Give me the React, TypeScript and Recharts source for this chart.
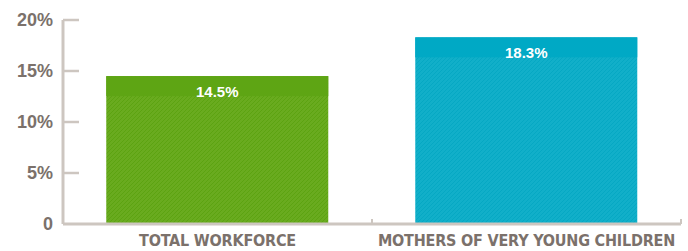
import { BarChart, Bar, XAxis, YAxis, LabelList } from 'recharts';

const categories = ['TOTAL WORKFORCE', 'MOTHERS OF VERY YOUNG CHILDREN'];
const shares = [14.5, 18.3];
const yTicks = [0, 5, 10, 15, 20];

const data = categories.map((name, i) => ({ name, value: shares[i] }));

const AXIS = '#cdc6c0';
const TEXT = '#7b716b';
const solid = ['#5ea514', '#00a9c5'];
const hatch = ['#69ab1f', '#11afc9'];
const stripe = ['#5ca311', '#05a8c3'];

function HatchBar(props: any) {
  const { x, y, width, height, index } = props;
  const band = Math.min(20, height);
  return (
    <g>
      <rect x={x} y={y} width={width} height={height} fill={`url(#hatch${index})`} />
      <rect x={x} y={y} width={width} height={band} fill={solid[index]} />
    </g>
  );
}

function YTick(props: any) {
  const { x, y, payload } = props;
  const v = payload.value;
  return (
    <g>
      <text x={x} y={y} dy={6} textAnchor="end" fill={TEXT} fontSize={18} fontWeight="bold"
        fontFamily="'Liberation Sans', Arial, sans-serif">
        {v === 0 ? '0' : `${v}%`}
      </text>
      {v !== 0 && <line x1={x + 10} x2={x + 26} y1={y} y2={y} stroke={AXIS} strokeWidth={2.5} />}
    </g>
  );
}

function XTick(props: any) {
  const { x, y, payload } = props;
  const off = payload.offset ?? 154.5;
  return (
    <g>
      <line x1={x + off} x2={x + off} y1={y - 5} y2={y} stroke={AXIS} strokeWidth={2} />
      <text x={x} y={y + 22} textAnchor="middle" fill={TEXT} fontSize={16} fontWeight="bold"
        letterSpacing={-0.2}
        fontFamily="'Liberation Sans Narrow', 'DejaVu Sans Condensed', sans-serif">
        {payload.value}
      </text>
    </g>
  );
}

export default function App() {
  return (
    <div style={{ position: 'absolute', left: 0, top: 0, background: '#fff' }}>
      <BarChart width={688} height={251} data={data} margin={{ top: 20, right: 7, bottom: 0, left: 0 }}
        barCategoryGap="14%">
        <defs>
          {hatch.map((c, i) => (
            <pattern key={i} id={`hatch${i}`} width={4} height={4} patternUnits="userSpaceOnUse">
              <rect width={4} height={4} fill={c} />
              <path d="M-1,1 l2,-2 M0,4 l4,-4 M3,5 l2,-2" stroke={stripe[i]} strokeWidth={1} />
            </pattern>
          ))}
        </defs>
        <XAxis dataKey="name" height={27} tickLine={false} tickSize={0} tickMargin={0}
          axisLine={{ stroke: AXIS, strokeWidth: 3 }} tick={<XTick />} interval={0} />
        <YAxis width={63} domain={[0, 20]} ticks={yTicks} tickLine={false} tickSize={0} tickMargin={10}
          axisLine={{ stroke: AXIS, strokeWidth: 3 }} tick={<YTick />} />
        <Bar dataKey="value" isAnimationActive={false} shape={<HatchBar />}>
          <LabelList dataKey="value" position="insideTop" offset={10} fill="#fff" fontSize={15}
            fontWeight="bold" fontFamily="'Liberation Sans', Arial, sans-serif"
            formatter={(v: any) => `${v}%`} />
        </Bar>
      </BarChart>
    </div>
  );
}
